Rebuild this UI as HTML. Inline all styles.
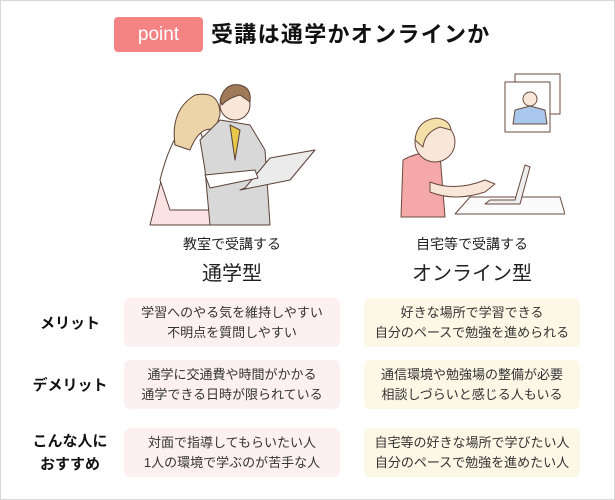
<!DOCTYPE html>
<html><head><meta charset="utf-8"><style>
*{margin:0;padding:0;box-sizing:border-box}
body{width:615px;height:500px;background:#fff;position:relative;overflow:hidden;font-family:"Liberation Sans","Noto Sans CJK JP",sans-serif;color:#222}
.frame{position:absolute;left:0;top:0;width:615px;height:500px;border:1px solid #d8d8d8}
.pill{position:absolute;left:114px;top:17px;width:89px;height:35px;background:#f48484;border-radius:4px;color:#fff;font-size:19px;text-align:center;line-height:35px}
.title{position:absolute;left:211px;top:17px;height:35px;line-height:35px;font-size:22px;font-weight:bold;color:#111;letter-spacing:1.3px}
.cap{position:absolute;text-align:center;width:240px;color:#222}
.s{font-size:14px}.b{font-size:20px}
.box{position:absolute;width:216px;height:49px;border-radius:6px;font-size:13px;text-align:center;line-height:20px;padding-top:5px;color:#333}
.l{left:124px;background:#fdf0f0}.r{left:364px;background:#fdf7e6}
.lab{position:absolute;width:110px;left:15px;text-align:center;font-weight:bold;font-size:15px;line-height:23px;color:#111}
</style></head><body>
<div class="frame"></div>
<div class="pill">point</div>
<div class="title">受講は通学かオンラインか</div>

<svg style="position:absolute;left:140px;top:70px" width="200" height="160" viewBox="0 0 200 160">
<g stroke="#5a4036" stroke-width="1" stroke-linejoin="round">
<path d="M10 155 L25 95 L50 85 L75 120 L80 155Z" fill="#fbe3e3"/>
<path d="M20 110 Q30 70 45 55 L60 60 L75 110 L70 140 L30 140Z" fill="#fff"/>
<path d="M35 75 Q30 40 55 25 Q80 20 80 45 L75 60 Q60 55 50 80Z" fill="#ecd3a8"/>
<path d="M60 70 L80 50 L110 55 L125 80 L130 155 L70 155 L65 100Z" fill="#d8d8d8"/>
<path d="M90 55 L95 90 L100 60Z" fill="#e8c84a"/>
<circle cx="95" cy="35" r="15" fill="#f8e6d8"/>
<path d="M80 30 Q85 12 100 15 Q112 18 110 32 L100 25 Q88 28 82 35Z" fill="#a07a58"/>
<path d="M100 120 L150 110 L175 80 L130 88 L105 118Z" fill="#ebebeb"/>
<path d="M65 105 L115 100 L118 108 L70 118Z" fill="#fff"/>
</g></svg>

<svg style="position:absolute;left:395px;top:72px" width="170" height="160" viewBox="0 0 170 160">
<g stroke="#6a4a3e" stroke-width="1" stroke-linejoin="round">
<rect x="120" y="2" width="45" height="40" fill="#fff"/>
<rect x="110" y="10" width="45" height="50" fill="#fff"/>
<path d="M118 52 L120 38 L135 34 L150 38 L152 52Z" fill="#a9c6ec"/>
<circle cx="135" cy="27" r="7" fill="#f8e6d8"/>
<path d="M6 145 L8 88 Q25 78 45 82 L50 145Z" fill="#f5a8a8"/>
<circle cx="40" cy="70" r="20" fill="#f8e6d8"/>
<path d="M20 68 Q22 48 42 46 Q55 48 56 58 L45 55 Q30 60 28 75Z" fill="#f3dfa8"/>
<path d="M35 110 Q60 120 90 108 L100 112 L90 120 Q60 130 35 120Z" fill="#f8e6d8"/>
<path d="M60 142 L75 125 L165 125 L170 142Z" fill="#fafafa"/>
<path d="M90 132 L125 132 L135 95 L130 93 L120 128 L95 128Z" fill="#eee"/>
</g></svg>

<div class="cap s" style="left:112px;top:234px">教室で受講する</div>
<div class="cap b" style="left:112px;top:257px">通学型</div>
<div class="cap s" style="left:352px;top:234px">自宅等で受講する</div>
<div class="cap b" style="left:352px;top:257px">オンライン型</div>

<div class="lab" style="top:312px">メリット</div>
<div class="lab" style="top:374px">デメリット</div>
<div class="lab" style="top:430px">こんな人に<br>おすすめ</div>

<div class="box l" style="top:298px">学習へのやる気を維持しやすい<br>不明点を質問しやすい</div>
<div class="box r" style="top:298px">好きな場所で学習できる<br>自分のペースで勉強を進められる</div>
<div class="box l" style="top:360px">通学に交通費や時間がかかる<br>通学できる日時が限られている</div>
<div class="box r" style="top:360px">通信環境や勉強場の整備が必要<br>相談しづらいと感じる人もいる</div>
<div class="box l" style="top:428px">対面で指導してもらいたい人<br>1人の環境で学ぶのが苦手な人</div>
<div class="box r" style="top:428px">自宅等の好きな場所で学びたい人<br>自分のペースで勉強を進めたい人</div>
</body></html>
